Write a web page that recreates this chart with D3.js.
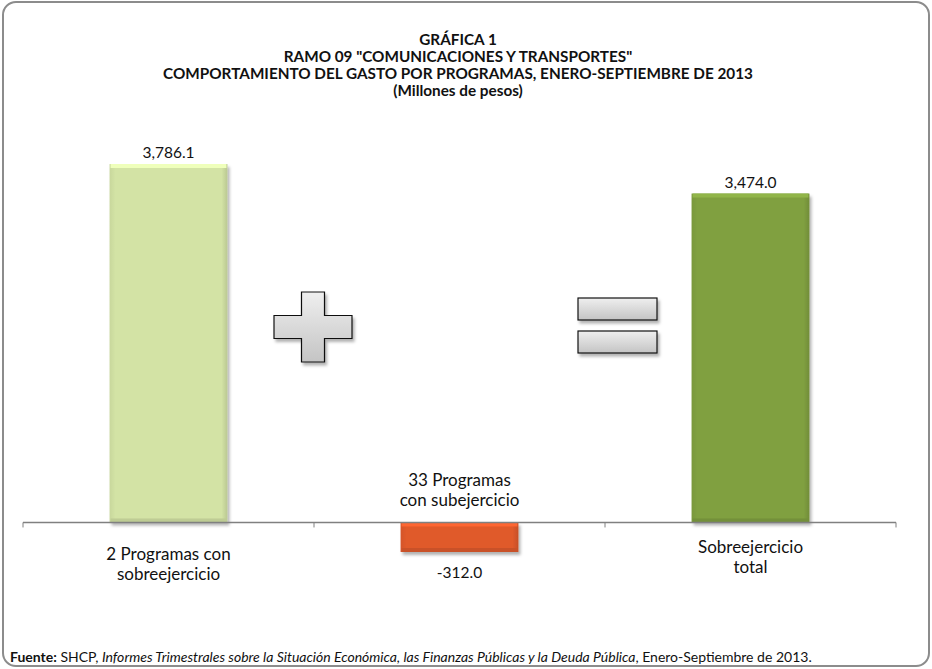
<!DOCTYPE html>
<html>
<head>
<meta charset="utf-8">
<script src="https://cdn.jsdelivr.net/npm/d3@7"></script>
<style>
  body { margin: 0; background: #fff; }
  svg { display: block; font-family: Lato, "Open Sans", sans-serif; }
</style>
</head>
<body>
<div id="chart"></div>
<script>
// data
const categories = ["2 Programas con|sobreejercicio", "33 Programas|con subejercicio", "Sobreejercicio|total"];
const values = [3786.1, -312.0, 3474.0];
const valueLabels = ["3,786.1", "-312.0", "3,474.0"];
const barColors = ["#d3e3a5", "#e05a2c", "#80a040"];
const titleLines = [
  "GRÁFICA 1",
  "RAMO 09 \"COMUNICACIONES Y TRANSPORTES\"",
  "COMPORTAMIENTO DEL GASTO POR PROGRAMAS, ENERO-SEPTIEMBRE DE 2013",
  "(Millones de pesos)"
];

const width = 932, height = 669;
const svg = d3.select("#chart").append("svg").attr("width", width).attr("height", height);
const defs = svg.append("defs");

// outer frame
svg.append("rect")
  .attr("x", 3).attr("y", 2).attr("width", width - 6).attr("height", height - 5)
  .attr("rx", 13).attr("ry", 13)
  .attr("fill", "#fff").attr("stroke", "#8c8c8c").attr("stroke-width", 2);

// title
svg.append("g").selectAll("text")
  .data(titleLines)
  .enter().append("text")
    .attr("x", 458).attr("y", (d, i) => 45 + i * 17)
    .attr("text-anchor", "middle")
    .attr("font-size", 15.3).attr("font-weight", "bold").attr("fill", "#111")
    .text(d => d);

const x = d3.scaleBand().domain(categories).range([23, 896]).paddingInner(0.595).paddingOuter(0.2975);
const y = d3.scaleLinear().domain([-312, 3786.1]).range([552, 164]);

// shadow filter
const f = defs.append("filter").attr("id", "shadow").attr("x", "-20%").attr("y", "-20%").attr("width", "150%").attr("height", "150%");
f.append("feDropShadow").attr("dx", 2).attr("dy", 3).attr("stdDeviation", 1.5).attr("flood-color", "#000").attr("flood-opacity", 0.3);

// gradients for bars
barColors.forEach((c, i) => {
  const g = defs.append("linearGradient").attr("id", "bar" + i).attr("x1", 0).attr("y1", 0).attr("x2", 1).attr("y2", 0);
  g.append("stop").attr("offset", "0%").attr("stop-color", d3.color(c).darker(0.15));
  g.append("stop").attr("offset", "5%").attr("stop-color", c);
  g.append("stop").attr("offset", "95%").attr("stop-color", c);
  g.append("stop").attr("offset", "100%").attr("stop-color", d3.color(c).darker(0.35));
});

const bars = svg.append("g").selectAll("g")
  .data(values)
  .enter().append("g");

bars.append("rect")
  .attr("x", (d, i) => x(categories[i]))
  .attr("y", d => y(Math.max(0, d)))
  .attr("width", x.bandwidth())
  .attr("height", d => Math.abs(y(d) - y(0)))
  .attr("fill", (d, i) => `url(#bar${i})`)
  .attr("filter", "url(#shadow)");

// bevel highlight on top, darker at bottom
bars.append("rect")
  .attr("x", (d, i) => x(categories[i]) + 1)
  .attr("y", d => y(Math.max(0, d)))
  .attr("width", x.bandwidth() - 2)
  .attr("height", 4)
  .attr("fill", (d, i) => d3.color(barColors[i]).brighter(0.35));
bars.append("rect")
  .attr("x", (d, i) => x(categories[i]) + 1)
  .attr("y", d => y(Math.min(0, d)) - 4)
  .attr("width", x.bandwidth() - 2)
  .attr("height", 4)
  .attr("fill", (d, i) => d3.color(barColors[i]).darker(0.3));

// value labels
bars.append("text")
  .attr("x", (d, i) => x(categories[i]) + x.bandwidth() / 2)
  .attr("y", d => d >= 0 ? y(d) - 6 : y(d) + 26)
  .attr("text-anchor", "middle")
  .attr("font-size", 15.5).attr("fill", "#111")
  .text((d, i) => valueLabels[i]);

// axis line + ticks
const axisY = y(0);
svg.append("line").attr("x1", 23).attr("x2", 896).attr("y1", axisY).attr("y2", axisY)
  .attr("stroke", "#808080").attr("stroke-width", 1.5);
const tickXs = [23].concat(categories.map(c => x(c) + x.bandwidth() / 2 + x.step() / 2));
svg.append("g").selectAll("line").data(tickXs).enter().append("line")
  .attr("x1", d => d).attr("x2", d => d).attr("y1", axisY).attr("y2", axisY + 5)
  .attr("stroke", "#808080");

// category labels
const catG = svg.append("g").selectAll("text")
  .data(categories)
  .enter().append("text")
    .attr("text-anchor", "middle")
    .attr("font-size", 17).attr("fill", "#111")
    .attr("x", d => x(d) + x.bandwidth() / 2)
    .attr("y", (d, i) => i === 1 ? axisY - 36 : (i === 0 ? axisY + 38 : axisY + 31));
catG.selectAll("tspan")
  .data(d => d.split("|"))
  .enter().append("tspan")
    .attr("x", function() { return this.parentNode.getAttribute("x"); })
    .attr("dy", (d, i) => i === 0 ? 0 : 20)
    .text(d => d);

// operator symbols
const sym = defs.append("linearGradient").attr("id", "sym").attr("x1", 0).attr("y1", 0).attr("x2", 0).attr("y2", 1);
sym.append("stop").attr("offset", "0%").attr("stop-color", "#efefef");
sym.append("stop").attr("offset", "100%").attr("stop-color", "#c4c4c4");

const px = 313, py = 327, arm = 39, th = 11.5;
svg.append("path")
  .attr("d", `M${px - th},${py - arm + 4} H${px + th} V${py - th} H${px + arm} V${py + th} H${px + th} V${py + arm - 4} H${px - th} V${py + th} H${px - arm} V${py - th} H${px - th} Z`)
  .attr("fill", "url(#sym)").attr("stroke", "#111").attr("stroke-width", 1.2)
  .attr("filter", "url(#shadow)");

[298, 331].forEach(yy => {
  svg.append("rect")
    .attr("x", 578).attr("y", yy).attr("width", 79).attr("height", 22)
    .attr("fill", "url(#sym)").attr("stroke", "#111").attr("stroke-width", 1.2)
    .attr("filter", "url(#shadow)");
});

// source note
const note = svg.append("text").attr("x", 10).attr("y", 662).attr("font-size", 14).attr("fill", "#111");
note.append("tspan").attr("font-weight", "bold").text("Fuente:");
note.append("tspan").text(" SHCP, ");
note.append("tspan").attr("font-style", "italic").text("Informes Trimestrales sobre la Situación Económica, las Finanzas Públicas y la Deuda Pública");
note.append("tspan").text(", Enero-Septiembre de 2013.");
</script>
</body>
</html>
